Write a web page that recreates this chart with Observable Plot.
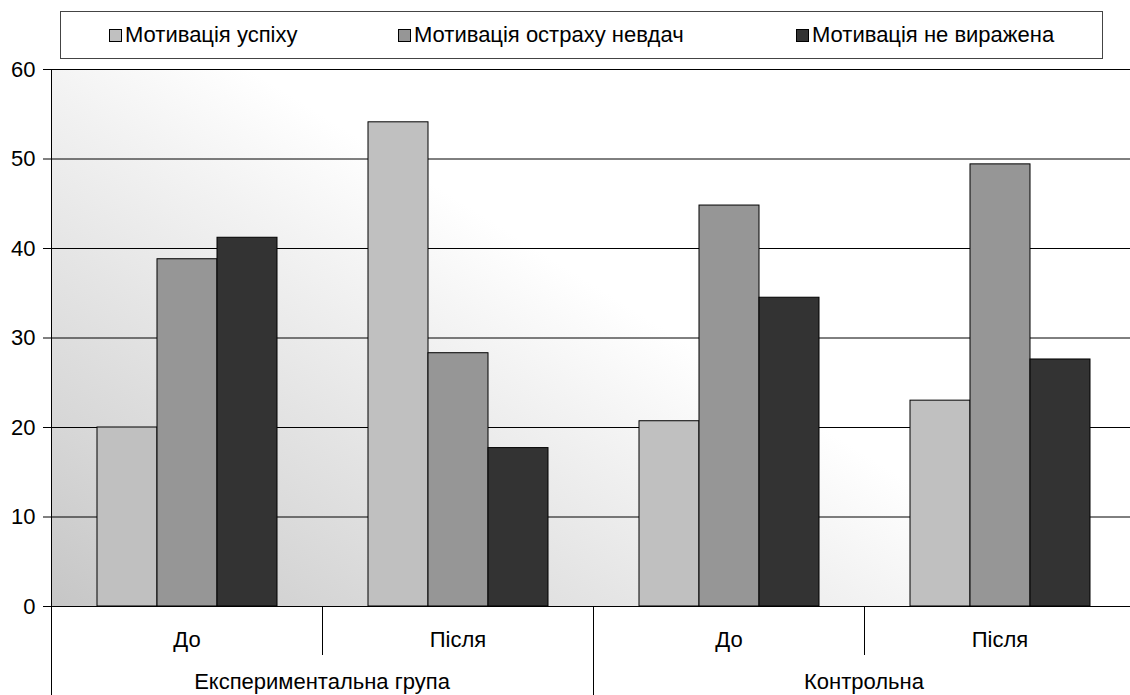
<!DOCTYPE html>
<html><head><meta charset="utf-8">
<script src="https://cdn.jsdelivr.net/npm/d3@7"></script>
<script src="https://cdn.jsdelivr.net/npm/@observablehq/plot@0.6"></script>
<style>
html,body{margin:0;padding:0;overflow:hidden;background:#fff;}
body{font-family:"Liberation Sans",Arial,sans-serif;width:1130px;height:695px;position:relative;}
#legend{position:absolute;left:60px;top:11px;width:1041px;height:46px;border:1px solid #444;background:#fff;z-index:2;}
.item{position:absolute;top:0;height:46px;display:flex;align-items:center;font-size:22px;color:#000;white-space:nowrap;}
.sw{width:11px;height:11px;border:1px solid #000;margin-right:3px;}
#chart{position:absolute;left:0;top:0;width:1130px;height:695px;overflow:hidden;}
#chart svg{max-width:none !important;}
</style></head>
<body>
<div id="legend"></div>
<div id="chart"></div>
<script>
const categories = ["До", "Після", "До", "Після"];
const groups = ["Експериментальна група", "Контрольна"];
const series = ["Мотивація успіху", "Мотивація остраху невдач", "Мотивація не виражена"];
const success = [20.0, 54.1, 20.7, 23.0];
const fear = [38.8, 28.3, 44.8, 49.4];
const notExpressed = [41.2, 17.7, 34.5, 27.6];
const colors = ["#c0c0c0", "#969696", "#333333"];
const yTicks = [0, 10, 20, 30, 40, 50, 60];

const keys = categories.map((c, i) => String(i));
const seriesValues = [success, fear, notExpressed];
const rows = [];
keys.forEach((k, i) => {
  series.forEach((s, j) => rows.push({key: k, series: s, value: seriesValues[j][i]}));
});

// legend
const legendPos = [48, 337, 735];
const legend = document.getElementById("legend");
series.forEach((s, j) => {
  const it = document.createElement("div");
  it.className = "item";
  it.style.left = legendPos[j] + "px";
  const sw = document.createElement("span");
  sw.className = "sw";
  sw.style.background = colors[j];
  it.appendChild(sw);
  it.appendChild(document.createTextNode(s));
  legend.appendChild(it);
});

const plot = Plot.plot({
  width: 1135,
  height: 695,
  marginTop: 69,
  marginBottom: 89,
  marginLeft: 51,
  marginRight: 0,
  style: {fontFamily: "Liberation Sans, Arial, sans-serif", fontSize: "22px", color: "#000", background: "transparent", maxWidth: "none"},
  facet: {data: rows, x: "key"},
  fx: {domain: keys, padding: 0, axis: "bottom", tickSize: 0, tickPadding: 25, tickFormat: k => categories[+k], label: null},
  x: {domain: series, paddingInner: 0, paddingOuter: 0.75, axis: null},
  y: {domain: [0, 60], ticks: yTicks, tickSize: 8, tickPadding: 8, label: null},
  color: {domain: series, range: colors},
  marks: [
    Plot.ruleY(yTicks, {stroke: "#000", strokeWidth: 1}),
    Plot.barY(rows, {x: "series", y: "value", fill: "series", stroke: "#000", strokeWidth: 1})
  ]
});
plot.style.maxWidth = "none";
document.getElementById("chart").appendChild(plot);

// background gradient, dividers and group labels from the plot's scales
const ys = plot.scale("y");
const fxs = plot.scale("fx");
const y0 = ys.apply(0), y60 = ys.apply(60);
const bw = fxs.bandwidth;
const xLeft = fxs.apply(keys[0]);
const xRight = fxs.apply(keys[keys.length - 1]) + bw;
const svg = d3.select(plot);
const defs = svg.insert("defs", ":first-child");
const grad = defs.append("linearGradient").attr("id", "bgGrad")
  .attr("gradientUnits", "userSpaceOnUse")
  .attr("x1", xLeft).attr("y1", y0)
  .attr("x2", xLeft + 297).attr("y2", y0 - 475);
[[0, "#c6c6c6"], [0.27, "#d6d6d6"], [0.53, "#e4e4e4"], [0.78, "#f2f2f2"], [1, "#ffffff"]]
  .forEach(([o, c]) => grad.append("stop").attr("offset", o).attr("stop-color", c));
svg.insert("rect", "defs + *")
  .attr("x", xLeft).attr("y", y60).attr("width", xRight - xLeft).attr("height", y0 - y60)
  .attr("fill", "url(#bgGrad)");

const H = 695;
const g = svg.append("g").attr("stroke", "#000").attr("stroke-width", 1);
g.append("line").attr("x1", xLeft + 0.5).attr("x2", xLeft + 0.5).attr("y1", y60).attr("y2", H);
groups.forEach((name, gi) => {
  const a = fxs.apply(keys[2 * gi]);
  const b = fxs.apply(keys[2 * gi + 1]);
  g.append("line").attr("x1", a + 0.5).attr("x2", a + 0.5).attr("y1", y0).attr("y2", H);
  g.append("line").attr("x1", b + 0.5).attr("x2", b + 0.5).attr("y1", y0).attr("y2", y0 + 49);
  svg.append("text").attr("x", b).attr("y", y0 + 83).attr("text-anchor", "middle")
    .attr("fill", "#000").style("font-size", "22px").text(name);
});
</script>
</body></html>
